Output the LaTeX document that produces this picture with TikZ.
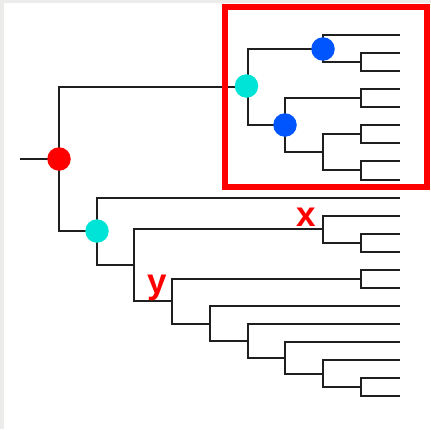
\documentclass[tikz,border=0pt]{standalone}
\usepackage{fontspec}
\newfontfamily\labelfont{Liberation Sans}
\begin{document}
\begin{tikzpicture}[x=1pt,y=-1pt,
  branch/.style={line width=1.9pt, draw=black!88, line cap=rect},
  dot/.style={circle, minimum size=23.5pt, inner sep=0pt, draw=none},
  rootdot/.style={dot, fill=rootred},
  cladedot/.style={dot, fill=cladecyan},
  subdot/.style={dot, fill=subblue},
  marklabel/.style={text=rootred, font=\labelfont\bfseries\fontsize{35}{35}\selectfont, inner sep=0pt, anchor=base}]
\definecolor{rootred}{RGB}{255,0,0}
\definecolor{cladecyan}{RGB}{0,228,216}
\definecolor{subblue}{RGB}{0,85,255}
\definecolor{framegray}{RGB}{236,236,234}
\useasboundingbox (0,0) rectangle (431,429);
\fill[white] (0,0) rectangle (431,429);
\fill[framegray] (0,0) rectangle (4,429);
\fill[framegray] (0,0) rectangle (431,3);

% leaves
\foreach \y [count=\k from 0] in {35,53,71,89,107,125,143,161,180,198,216,234,252,270,288,306,324,342,360,378,396} {
  \coordinate (L\k) at (399, \y);
}
% upper clade
\coordinate (a1) at (361, 62);
\coordinate (B1) at (323, 49);
\coordinate (a2) at (361, 98);
\coordinate (a3) at (361, 134);
\coordinate (a4) at (361, 170);
\coordinate (a5) at (323, 152);
\coordinate (B2) at (285, 125);
\coordinate (C1) at (248, 87);
% lower clade
\coordinate (b1) at (361, 243);
\coordinate (X)  at (323, 229);
\coordinate (b2) at (361, 279);
\coordinate (b7) at (361, 387);
\coordinate (b6) at (323, 374);
\coordinate (b5) at (285, 358);
\coordinate (b4) at (248, 341);
\coordinate (b3) at (210, 324);
\coordinate (Y)  at (172, 301);
\coordinate (b8) at (134, 265);
\coordinate (C2) at (97, 231);
\coordinate (R)  at (59, 159);
\coordinate (stem) at (21, 159);

% branches
\draw[branch] (stem) -- (R);
\draw[branch] (R) |- (C1);
\draw[branch] (R) |- (C2);
\draw[branch] (C1) |- (B1);
\draw[branch] (C1) |- (B2);
\draw[branch] (B1) |- (L0);
\draw[branch] (B1) |- (a1);
\draw[branch] (a1) |- (L1);
\draw[branch] (a1) |- (L2);
\draw[branch] (B2) |- (a2);
\draw[branch] (B2) |- (a5);
\draw[branch] (a2) |- (L3);
\draw[branch] (a2) |- (L4);
\draw[branch] (a5) |- (a3);
\draw[branch] (a5) |- (a4);
\draw[branch] (a3) |- (L5);
\draw[branch] (a3) |- (L6);
\draw[branch] (a4) |- (L7);
\draw[branch] (a4) |- (L8);
\draw[branch] (C2) |- (L9);
\draw[branch] (C2) |- (b8);
\draw[branch] (b8) |- (X);
\draw[branch] (b8) |- (Y);
\draw[branch] (X) |- (L10);
\draw[branch] (X) |- (b1);
\draw[branch] (b1) |- (L11);
\draw[branch] (b1) |- (L12);
\draw[branch] (Y) |- (b2);
\draw[branch] (Y) |- (b3);
\draw[branch] (b2) |- (L13);
\draw[branch] (b2) |- (L14);
\draw[branch] (b3) |- (L15);
\draw[branch] (b3) |- (b4);
\draw[branch] (b4) |- (L16);
\draw[branch] (b4) |- (b5);
\draw[branch] (b5) |- (L17);
\draw[branch] (b5) |- (b6);
\draw[branch] (b6) |- (L18);
\draw[branch] (b6) |- (b7);
\draw[branch] (b7) |- (L19);
\draw[branch] (b7) |- (L20);

% marked nodes
\node[rootdot]  (rootmark) at (R) {};
\node[cladedot] (uppermark) at (246.5, 86) {};
\node[cladedot] (lowermark) at (C2) {};
\node[subdot]   (submarkA) at (B1) {};
\node[subdot]   (submarkB) at (B2) {};

% labels
\node[marklabel] (xlabel) at (305.8, 226.3) {x};
\node[marklabel] (ylabel) at (157, 293.5) {y};

% highlighted clade
\draw[rootred, line width=6pt] (225.3,7) rectangle (427,186.5);
\end{tikzpicture}
\end{document}
